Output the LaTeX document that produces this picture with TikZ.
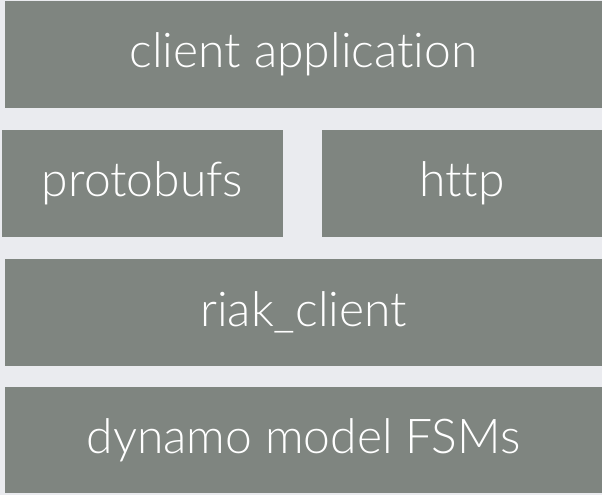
\documentclass[tikz,border=0pt]{standalone}
\usepackage{fontspec}
\setmainfont{Lato}[UprightFont=* Light,Ligatures=NoCommon]
\definecolor{boxgray}{RGB}{127,133,128}
\definecolor{bggray}{RGB}{234,235,239}
\begin{document}
\begin{tikzpicture}[x=1pt,y=-1pt,
  layer/.style={fill=none,draw=none,inner sep=0pt,text=white,font=\fontsize{48}{52}\selectfont}]
\fill[bggray] (0,0) rectangle (602,495);
\useasboundingbox (0,0) rectangle (602,495);
\fill[boxgray] (5,1) rectangle (602,108) node[midway,layer] (client) {client application};
\fill[boxgray] (2,130) rectangle (283,237) node[midway,layer] (proto) {protobufs};
\fill[boxgray] (322,130) rectangle (602,237) node[midway,layer] (http) {http};
\fill[boxgray] (5,259) rectangle (602,366) node[midway,layer] (riak) {riak\_client};
\fill[boxgray] (5,387) rectangle (602,493) node[midway,layer] (dyn) {dynamo model FSMs};
\end{tikzpicture}
\end{document}
